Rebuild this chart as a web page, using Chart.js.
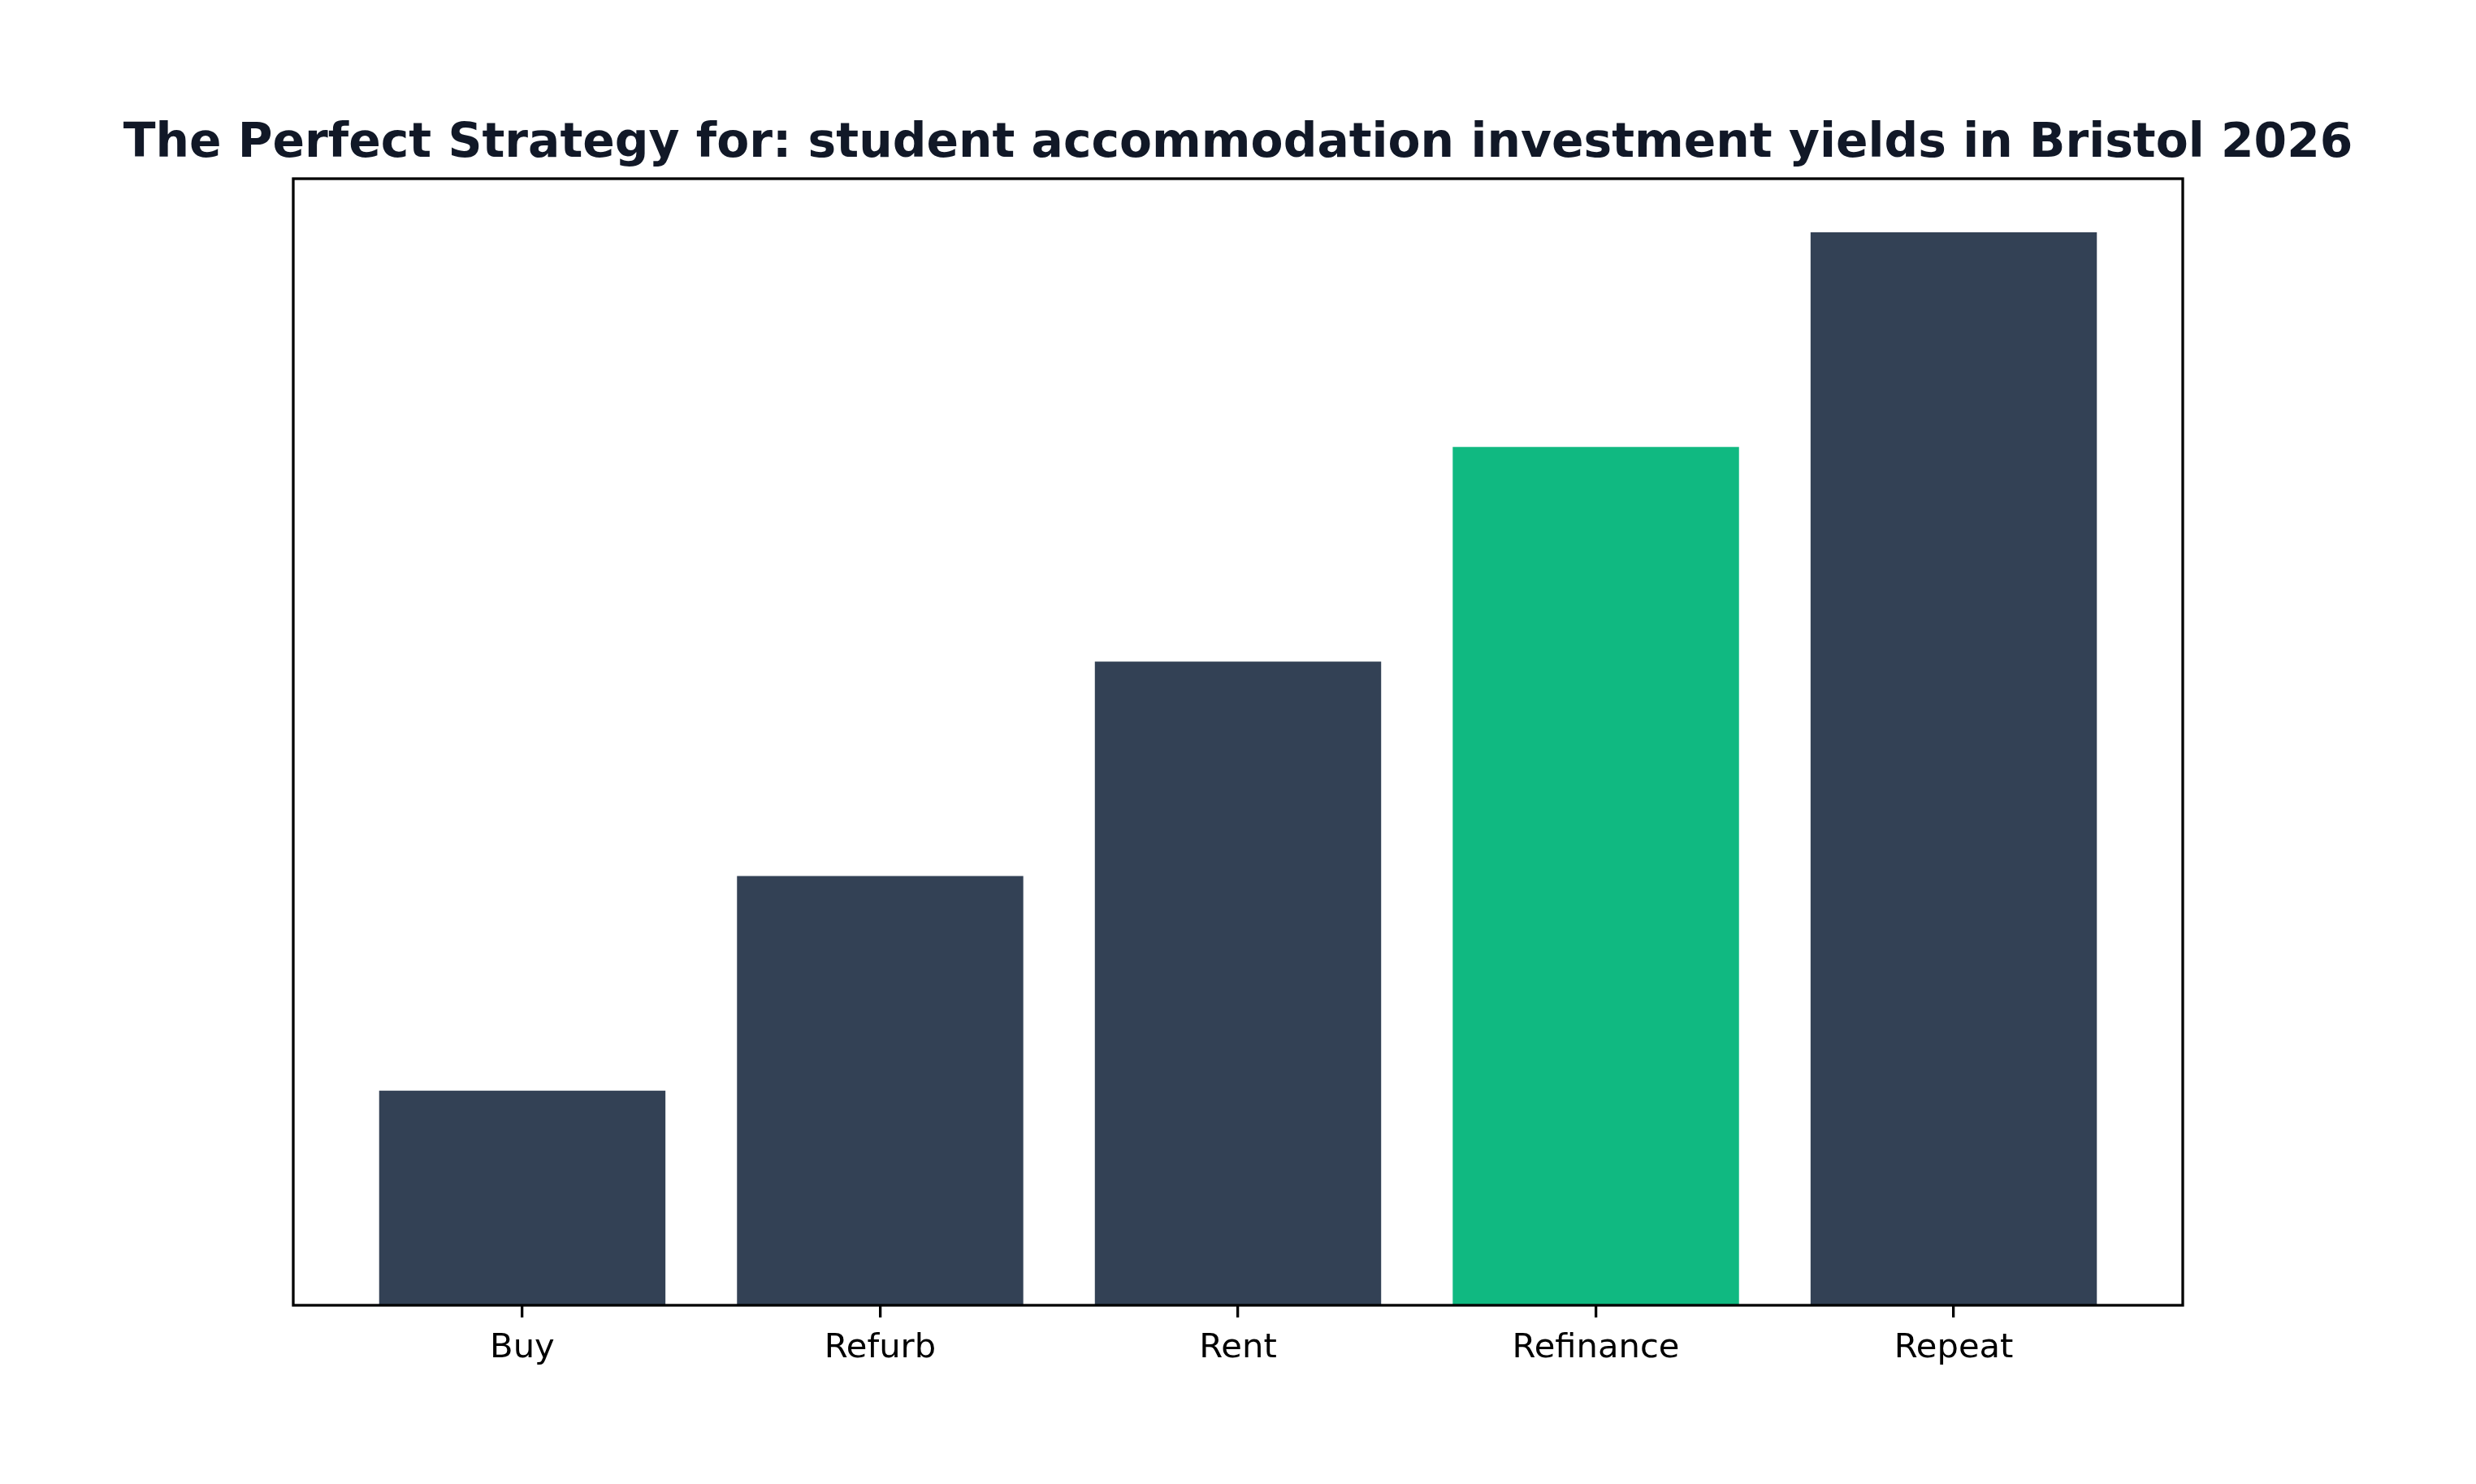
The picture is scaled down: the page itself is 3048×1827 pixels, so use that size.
<!DOCTYPE html>
<html>
<head>
<meta charset="utf-8">
<script src="https://cdn.jsdelivr.net/npm/chart.js@4/dist/chart.umd.min.js"></script>
<style>
  html, body { margin: 0; padding: 0; background: #ffffff; }
  canvas { display: block; }
</style>
</head>
<body>
<canvas id="chart" width="3048" height="1827"></canvas>
<script>
const titleText = 'The Perfect Strategy for: student accommodation investment yields in Bristol 2026'
const categories = ['Buy', 'Refurb', 'Rent', 'Refinance', 'Repeat']
const values = [1, 2, 3, 4, 5]
const barColors = ['#334155', '#334155', '#334155', '#10b981', '#334155']

// matplotlib style frame round the plot area, and the title above it
const framePlugin = {
    id: 'frame',
    afterDatasetsDraw(chart) {
        const a = chart.chartArea
        const ctx = chart.ctx
        ctx.save()
        ctx.strokeStyle = '#000000'
        ctx.lineWidth = 3.3
        ctx.strokeRect(a.left, a.top, a.right - a.left, a.bottom - a.top)

        ctx.fillStyle = '#111827'
        ctx.font = 'bold 58.3px "DejaVu Sans"'
        ctx.textAlign = 'center'
        ctx.textBaseline = 'middle'
        ctx.fillText(titleText, (a.left + a.right) / 2, 178)
        ctx.restore()
    }
}

const points = categories.map((c, i) => ({ x: i, y: values[i] }))

chart = new Chart(document.getElementById('chart'), {
    type: 'bar',
    data: {
        datasets: [{
            data: points,
            backgroundColor: barColors,
            borderWidth: 0,
            barPercentage: 0.8,
            categoryPercentage: 1.0
        }]
    },
    options: {
        responsive: false,
        animation: false,
        devicePixelRatio: 1,
        layout: {
            padding: { left: 361, right: 361, top: 220, bottom: 129 }
        },
        scales: {
            x: {
                type: 'linear',
                min: -0.64,
                max: 4.64,
                offset: false,
                afterBuildTicks: (axis) => {
                    axis.ticks = categories.map((c, i) => ({ value: i }))
                },
                ticks: {
                    autoSkip: false,
                    maxRotation: 0,
                    padding: 13,
                    color: '#000000',
                    font: { family: 'DejaVu Sans', size: 41.7 },
                    callback: (v) => categories[v]
                },
                grid: {
                    offset: false,
                    drawOnChartArea: false,
                    drawTicks: true,
                    tickLength: 15,
                    lineWidth: 3.3,
                    color: '#000000'
                },
                border: { display: false }
            },
            y: {
                display: false,
                min: 0,
                max: 5.25
            }
        },
        plugins: {
            legend: { display: false },
            tooltip: { enabled: false },
            title: { display: false }
        }
    },
    plugins: [framePlugin]
})
</script>
</body>
</html>
